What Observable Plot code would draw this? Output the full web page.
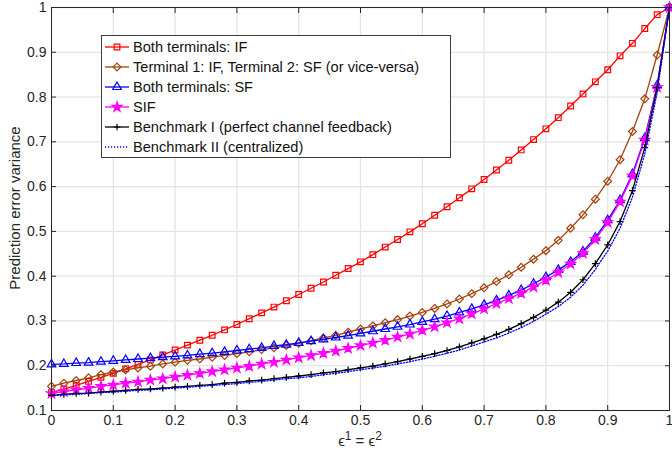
<!DOCTYPE html>
<html><head><meta charset="utf-8">
<script src="https://cdn.jsdelivr.net/npm/d3@7"></script>
<script src="https://cdn.jsdelivr.net/npm/@observablehq/plot@0.6"></script>
<style>
body{margin:0;background:#fff;}
#wrap{position:relative;width:672px;height:456px;font-family:"Liberation Sans",Arial,sans-serif;color:#262626;}
#chart svg text{font-size:14px !important;font-family:"Liberation Sans",Arial,sans-serif !important;fill:#262626;}
#legend{position:absolute;left:101px;top:35px;width:350px;height:123px;background:#fff;border:1px solid #3c3c3c;box-sizing:border-box;padding-top:1px;}
.row{display:flex;align-items:center;height:20px;font-size:14.6px;white-space:nowrap;color:#111;}
.row svg{margin-left:2px;margin-right:3px;flex:none;}
#xlabel{position:absolute;left:300px;width:120px;top:432px;text-align:center;font-size:15px;color:#262626;}
#xlabel sup{font-size:12px;vertical-align:6px;line-height:0;}
#ylabel{position:absolute;left:14px;top:208px;transform:translate(-50%,-50%) rotate(-90deg);font-size:15px;white-space:nowrap;color:#262626;}
</style>
</head><body>
<div id="wrap">
  <div id="chart"></div>
  <div id="legend"></div>
  <div id="xlabel">&#1013;<sup>1</sup> = &#1013;<sup>2</sup></div>
  <div id="ylabel">Prediction error variance</div>
</div>
<script>
const eps = [0,0.02,0.04,0.06,0.08,0.10,0.12,0.14,0.16,0.18,0.20,0.22,0.24,0.26,0.28,0.30,0.32,0.34,0.36,0.38,0.40,0.42,0.44,0.46,0.48,0.50,0.52,0.54,0.56,0.58,0.60,0.62,0.64,0.66,0.68,0.70,0.72,0.74,0.76,0.78,0.80,0.82,0.84,0.86,0.88,0.90,0.92,0.94,0.96,0.98,1.00];

const bothIF = [0.140,0.148,0.156,0.165,0.174,0.183,0.193,0.203,0.213,0.224,0.235,0.246,0.257,0.268,0.280,0.292,0.305,0.318,0.331,0.345,0.359,0.373,0.387,0.402,0.417,0.432,0.448,0.465,0.482,0.499,0.517,0.536,0.555,0.575,0.595,0.616,0.637,0.659,0.682,0.705,0.729,0.754,0.780,0.807,0.834,0.861,0.892,0.920,0.953,0.984,1.000];

const mixedIFSF = [0.154,0.161,0.167,0.173,0.180,0.186,0.191,0.195,0.199,0.204,0.208,0.212,0.215,0.219,0.223,0.227,0.231,0.236,0.240,0.245,0.250,0.256,0.262,0.268,0.275,0.282,0.289,0.296,0.303,0.311,0.319,0.328,0.338,0.349,0.361,0.374,0.388,0.403,0.420,0.438,0.457,0.480,0.507,0.537,0.572,0.612,0.660,0.723,0.796,0.894,1.000];

const bothSF = [0.203,0.204,0.206,0.207,0.209,0.211,0.213,0.215,0.217,0.219,0.221,0.223,0.226,0.228,0.231,0.234,0.237,0.240,0.244,0.247,0.251,0.255,0.259,0.263,0.267,0.272,0.277,0.282,0.287,0.292,0.298,0.304,0.311,0.319,0.327,0.336,0.346,0.357,0.369,0.383,0.398,0.414,0.432,0.455,0.486,0.525,0.570,0.628,0.708,0.826,1.000];

const sif = [0.138,0.142,0.146,0.150,0.154,0.157,0.161,0.164,0.168,0.171,0.175,0.179,0.183,0.187,0.191,0.195,0.199,0.204,0.208,0.213,0.218,0.223,0.228,0.233,0.239,0.245,0.251,0.257,0.264,0.271,0.279,0.287,0.296,0.305,0.316,0.327,0.339,0.350,0.362,0.376,0.391,0.408,0.427,0.451,0.482,0.520,0.566,0.624,0.704,0.822,1.000];

const benchI = [0.134,0.136,0.138,0.139,0.141,0.143,0.145,0.147,0.148,0.150,0.152,0.154,0.156,0.158,0.161,0.163,0.166,0.168,0.171,0.174,0.177,0.180,0.184,0.187,0.191,0.195,0.199,0.204,0.209,0.215,0.221,0.227,0.234,0.242,0.251,0.260,0.270,0.281,0.294,0.308,0.324,0.342,0.364,0.392,0.428,0.470,0.522,0.591,0.687,0.821,1.000];

const benchII = [0.133,0.135,0.136,0.138,0.140,0.141,0.143,0.145,0.146,0.148,0.150,0.152,0.154,0.156,0.158,0.160,0.163,0.165,0.168,0.171,0.173,0.176,0.180,0.183,0.187,0.191,0.195,0.199,0.204,0.209,0.215,0.221,0.228,0.235,0.244,0.253,0.262,0.273,0.285,0.299,0.315,0.332,0.353,0.380,0.415,0.456,0.507,0.576,0.673,0.810,1.000];

const xTicks = [0,0.1,0.2,0.3,0.4,0.5,0.6,0.7,0.8,0.9,1];
const yTicks = [0.1,0.2,0.3,0.4,0.5,0.6,0.7,0.8,0.9,1];

const seriesNames = [
  "Both terminals: IF",
  "Terminal 1: IF, Terminal 2: SF (or vice-versa)",
  "Both terminals: SF",
  "SIF",
  "Benchmark I (perfect channel feedback)",
  "Benchmark II (centralized)"
];

const styles = [
  {values: bothIF, color: "#ff0000", symbol: "square", r: 3.2, fill: "none"},
  {values: mixedIFSF, color: "#a4420c", symbol: "diamond2", r: 3.5, fill: "none"},
  {values: bothSF, color: "#0000ff", symbol: "triangle", r: 3.2, fill: "none"},
  {values: sif, color: "#ff00ff", symbol: "star", r: 3.1, fill: "#ff00ff"},
  {values: benchI, color: "#000000", symbol: "plus", r: 2.3, fill: "none"},
  {values: benchII, color: "#0000ff", symbol: null, dash: "1.2,1.8"}
];

const marks = [
  Plot.gridX(xTicks, {stroke: "#e4e4e4", strokeOpacity: 1, strokeWidth: 1.3}),
  Plot.gridY(yTicks, {stroke: "#e4e4e4", strokeOpacity: 1, strokeWidth: 1.3})
];

styles.forEach((s, i) => {
  const data = eps.map((x, j) => ({x, y: s.values[j]}));
  marks.push(Plot.line(data, {x: "x", y: "y", stroke: s.color, strokeWidth: 1.3, strokeDasharray: s.dash || null, curve: "linear"}));
  if (s.symbol) {
    marks.push(Plot.dot(data, {x: "x", y: "y", symbol: () => s.symbol, r: s.r, stroke: s.color, fill: s.fill, strokeWidth: 1.2}));
  }
});

const fmt = d => String(+d.toFixed(1));

marks.push(
  Plot.axisX(xTicks, {anchor: "bottom", tickSize: 0, tickPadding: 5, tickFormat: fmt, label: null}),
  Plot.axisY(yTicks, {anchor: "left", tickSize: 0, tickPadding: 5, tickFormat: fmt, label: null}),
  Plot.axisX(xTicks, {anchor: "bottom", tickSize: -5, tickFormat: () => "", label: null, stroke: "#262626"}),
  Plot.axisX(xTicks, {anchor: "top", tickSize: -5, tickFormat: () => "", label: null, stroke: "#262626"}),
  Plot.axisY(yTicks, {anchor: "left", tickSize: -5, tickFormat: () => "", label: null, stroke: "#262626"}),
  Plot.axisY(yTicks, {anchor: "right", tickSize: -5, tickFormat: () => "", label: null, stroke: "#262626"}),
  Plot.frame({stroke: "#262626", strokeWidth: 1})
);

const chart = Plot.plot({
  width: 672,
  height: 456,
  marginLeft: 51,
  marginRight: 3,
  marginTop: 7,
  marginBottom: 46,
  x: {domain: [0, 1]},
  y: {domain: [0.1, 1]},
  style: {fontFamily: '"Liberation Sans", Arial, sans-serif', fontSize: "14px", color: "#262626", background: "#fff", overflow: "visible"},
  marks
});
document.getElementById("chart").appendChild(chart);

// legend
const legend = d3.select("#legend");
styles.forEach((s, i) => {
  const row = legend.append("div").attr("class", "row");
  const sv = row.append("svg").attr("width", 26).attr("height", 20);
  sv.append("line").attr("x1", 1).attr("x2", 25).attr("y1", 10).attr("y2", 10)
    .attr("stroke", s.color).attr("stroke-width", 1.3)
    .attr("stroke-dasharray", s.dash || null);
  if (s.symbol) {
    const symMap = {square: d3.symbolSquare, diamond2: d3.symbolDiamond2, triangle: d3.symbolTriangle, star: d3.symbolStar, plus: d3.symbolPlus};
    sv.append("path").attr("transform", "translate(13,10)")
      .attr("d", d3.symbol(symMap[s.symbol], Math.PI * s.r * s.r)())
      .attr("stroke", s.color).attr("fill", s.fill).attr("stroke-width", 1.2);
  }
  row.append("span").text(seriesNames[i]);
});
</script>
</body></html>
